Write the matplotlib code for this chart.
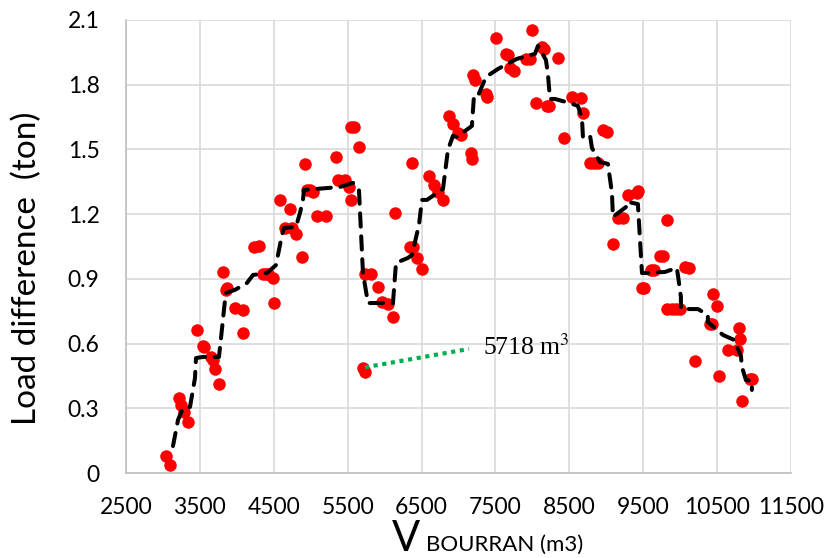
import matplotlib
matplotlib.use("Agg")
import matplotlib.pyplot as plt
from matplotlib import font_manager

plt.rcParams['mathtext.fontset'] = 'stix'

# ---- data ----
pts_x = [3041, 3095, 3217, 3244, 3285, 3339, 3461, 3542, 3555, 3650, 3677, 3704, 3758,
         3813, 3853, 3867, 3975, 4083, 4083, 4232, 4300, 4354, 4388, 4422, 4490, 4503,
         4584, 4719, 4652, 4746, 4800, 4882, 4922, 4949, 4990, 5030, 5085, 5206, 5342,
         5369, 5463, 5518, 5545, 5585, 5545, 5653, 5707, 5734, 5734, 5815, 5910, 5964,
         6045, 6113, 6140, 6343, 6384, 6438, 6505, 6370, 6600, 6668, 6722, 6790, 6871,
         6925, 6993, 7033, 7168, 7182, 7196, 7223, 7371, 7385, 7507, 7642, 7669, 7696,
         7750, 7913, 7967, 7994, 8129, 8156, 8048, 8197, 8224, 8346, 8427, 8535, 8657,
         8684, 8779, 8833, 8887, 8955, 9009, 9090, 9158, 9225, 9293, 9415, 9428, 9483,
         9510, 9604, 9645, 9726, 9767, 9821, 9821, 9888, 9942, 9997, 10064, 10118, 10199,
         10402, 10430, 10443, 10497, 10524, 10646, 10768, 10795, 10808, 10835, 10944, 10971]
pts_y = [0.079, 0.037, 0.348, 0.315, 0.283, 0.236, 0.663, 0.589, 0.584, 0.538, 0.524, 0.482, 0.413,
         0.932, 0.849, 0.858, 0.765, 0.756, 0.649, 1.048, 1.053, 0.923, 0.923, 0.923, 0.904, 0.788,
         1.266, 1.224, 1.136, 1.136, 1.108, 1.001, 1.433, 1.312, 1.312, 1.303, 1.192, 1.192, 1.465,
         1.359, 1.359, 1.326, 1.604, 1.604, 1.266, 1.510, 0.487, 0.468, 0.923, 0.923, 0.862, 0.793,
         0.784, 0.723, 1.206, 1.048, 1.048, 0.997, 0.946, 1.437, 1.377, 1.335, 1.303, 1.266, 1.655,
         1.618, 1.576, 1.567, 1.484, 1.456, 1.846, 1.822, 1.757, 1.744, 2.017, 1.943, 1.938, 1.878,
         1.864, 1.920, 1.920, 2.054, 1.975, 1.966, 1.716, 1.702, 1.702, 1.924, 1.553, 1.744, 1.739,
         1.669, 1.437, 1.437, 1.437, 1.590, 1.581, 1.062, 1.182, 1.182, 1.289, 1.298, 1.307, 0.858,
         0.858, 0.941, 0.941, 1.006, 1.006, 1.173, 0.760, 0.760, 0.760, 0.760, 0.955, 0.951, 0.519,
         0.691, 0.691, 0.830, 0.774, 0.450, 0.570, 0.570, 0.672, 0.621, 0.334, 0.436, 0.436]

trend_x = [3136, 3204, 3271, 3366, 3434, 3447, 3542, 3758, 3786, 3840, 3853, 3975, 4137, 4219,
           4408, 4530, 4611, 4638, 4800, 4855, 4895, 4909, 5396, 5572, 5653, 5707, 5775, 6113,
           6154, 6316, 6370, 6465, 6505, 6573, 6790, 6857, 6925, 6979, 7182, 7209, 7263, 7371,
           7534, 7791, 8035, 8075, 8183, 8210, 8238, 8305, 8495, 8616, 8671, 8684, 8779, 8806,
           8914, 9022, 9077, 9090, 9266, 9280, 9428, 9483, 9523, 9794, 9956, 10010, 10010, 10240,
           10375, 10375, 10579, 10728, 10822, 10836, 10890, 10971, 10971]
trend_y = [0.125, 0.246, 0.301, 0.306, 0.441, 0.533, 0.538, 0.538, 0.626, 0.802, 0.835, 0.849,
           0.881, 0.918, 0.927, 0.964, 1.104, 1.136, 1.141, 1.206, 1.266, 1.312, 1.326, 1.345,
           1.312, 0.927, 0.788, 0.788, 0.974, 0.997, 1.011, 1.150, 1.266, 1.266, 1.317, 1.498,
           1.563, 1.558, 1.609, 1.748, 1.748, 1.836, 1.873, 1.920, 1.943, 1.980, 1.915, 1.850,
           1.734, 1.734, 1.716, 1.702, 1.646, 1.558, 1.567, 1.507, 1.442, 1.433, 1.298, 1.187,
           1.233, 1.257, 1.247, 0.927, 0.927, 0.932, 0.951, 0.816, 0.760, 0.760, 0.733, 0.700,
           0.640, 0.617, 0.543, 0.492, 0.431, 0.427, 0.385]

annot_x = [5734, 7141]
annot_y = [0.49, 0.575]
annot_label = "5718 m$^{3}$"

x_ticks = [2500, 3500, 4500, 5500, 6500, 7500, 8500, 9500, 10500, 11500]
y_ticks = [0, 0.3, 0.6, 0.9, 1.2, 1.5, 1.8, 2.1]
y_ticklabels = ["0", "0.3", "0.6", "0.9", "1.2", "1.5", "1.8", "2.1"]

FONT = ['Lato', 'DejaVu Sans']

fig = plt.figure(figsize=(8.27, 5.58), dpi=100)
ax = fig.add_axes([126/827, 1-473/558, (791-126)/827, (473-20)/558])

ax.set_xlim(2500, 11500)
ax.set_ylim(0, 2.1)
ax.set_xticks(x_ticks)
ax.set_yticks(y_ticks)
ax.set_yticklabels(y_ticklabels)
ax.grid(True, color='#D9D9D9', linewidth=1.2, zorder=0)
ax.set_axisbelow(True)
for s in ['top', 'right']:
    ax.spines[s].set_visible(False)
for s in ['left', 'bottom']:
    ax.spines[s].set_color('#BFBFBF')
    ax.spines[s].set_linewidth(1.2)
ax.tick_params(length=0, labelsize=16.5, colors='black')
ax.tick_params(axis='x', pad=17)
ax.tick_params(axis='y', pad=19)
for lab in ax.get_xticklabels() + ax.get_yticklabels():
    lab.set_family(FONT)

ax.plot(pts_x, pts_y, linestyle='none', marker='o', markersize=9,
        color='#FF0000', markeredgewidth=0, zorder=3, clip_on=False)
ax.plot(trend_x, trend_y, color='black', linewidth=2.9, dashes=(3.3, 2.4),
        dash_capstyle='round', zorder=4)

ax.plot(annot_x, annot_y, color='#00B050', linewidth=3.0, linestyle=(0, (1, 1.1)),
        dash_capstyle='butt', zorder=5)
ax.text(7331, 0.584, annot_label, family=['Liberation Serif', 'DejaVu Serif'],
        fontsize=18.5, va='center', ha='left', zorder=6)

fig.text(27/827, 1-268/558, "Load difference  (ton)", rotation=90, family=FONT,
         fontsize=24, ha='center', va='center')
fig.text(392/827, 1-551/558, "V", family=FONT, fontsize=30, ha='left', va='baseline')
fig.text(426/827, 1-551/558, "BOURRAN (m3)", family=FONT,
         fontsize=16, ha='left', va='baseline')

fig.savefig("out.png", dpi=100)
